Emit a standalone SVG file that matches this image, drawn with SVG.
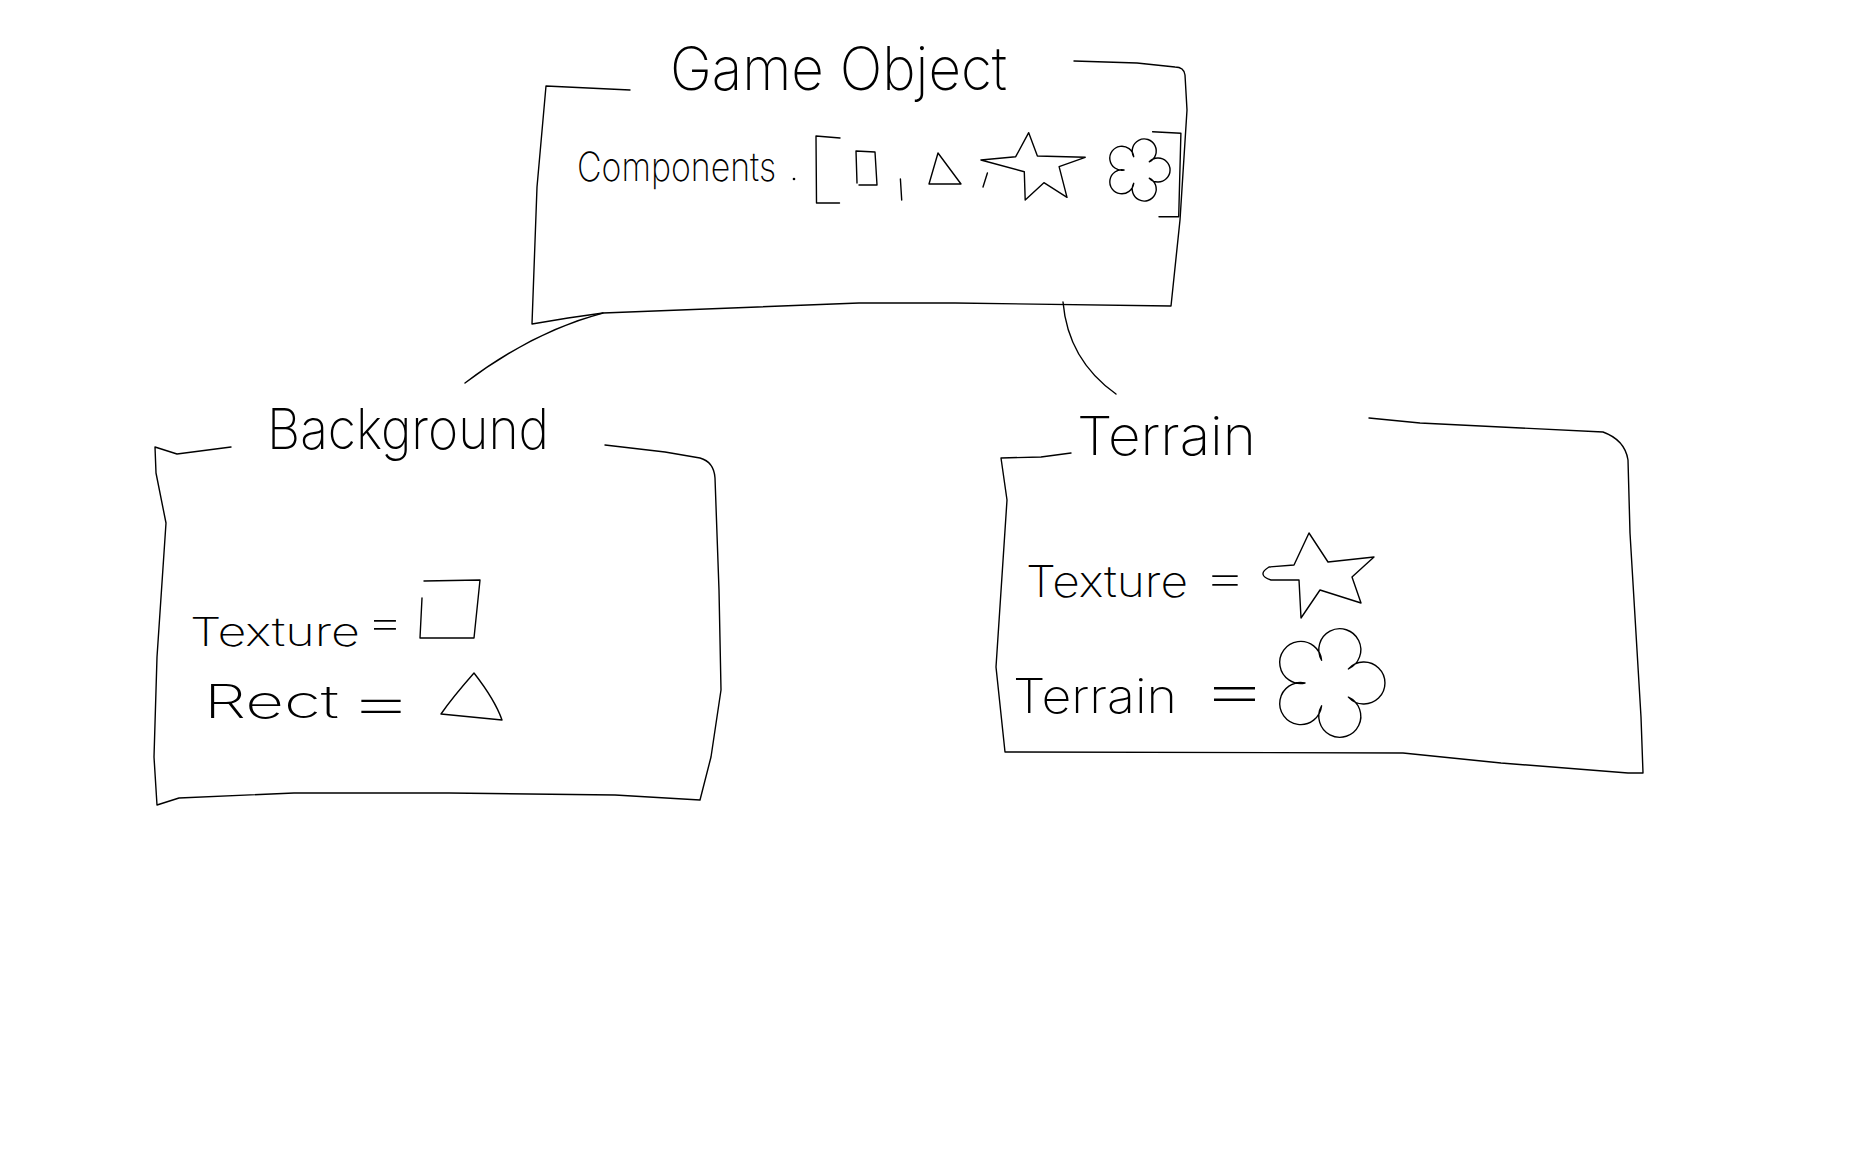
<svg xmlns="http://www.w3.org/2000/svg" width="1856" height="1150" viewBox="0 0 1856 1150">
<style>
.s{fill:none;stroke:#000;stroke-width:1.4;stroke-linejoin:round;stroke-linecap:round}
.t{font-family:Inter,"Liberation Sans",sans-serif;font-weight:200;fill:#000}
</style>
<rect width="1856" height="1150" fill="#fff"/>
<g id="connectors">
<path class="s" d="M 603 313 Q 532 332 465 383"/>
<path class="s" d="M 1063 302 Q 1068 360 1116 394"/>
</g>
<g id="node-game-object">
<path class="s" d="M 630 90 L 546 86 L 537 187 L 532 324 L 568 318 L 603 313 L 859 303 L 955 303 L 1171 306 L 1180 220 L 1187 110 L 1185 75 Q 1184 67 1175 67 L 1137 63 L 1074 61"/>
<text class="t" x="670" y="90" font-size="60" textLength="337" lengthAdjust="spacingAndGlyphs">Game Object</text>
<text class="t" x="577" y="181" font-size="40" textLength="199" lengthAdjust="spacingAndGlyphs">Components</text>
<circle cx="794" cy="179" r="1.3" fill="#000"/>
<path class="s" d="M 840 138 L 816 136 L 816.5 203 L 839.5 203"/>
<path class="s" d="M 856 151 L 875 152 L 877 185 L 859 185 M 856 151 L 857 183"/>
<path class="s" d="M 900.4 179 L 901.7 200"/>
<path class="s" d="M 938 153 L 961 184 L 929 184 Z"/>
<path class="s" d="M 987.4 173 L 983 187"/>
<path class="s" d="M 1028.7 132.7 L 1037.4 156 L 1085.2 157.3 L 1059.1 166.7 L 1067 197.3 L 1043.9 182.7 L 1025.2 200 L 1024.3 171.7 L 980.9 160 L 1015.7 156.7 Z"/>
<path class="s" d="M 1133.7 156.7 A 12 12 0 1 1 1149.3 161.8 A 12 12 0 1 1 1149.3 178.2 A 12 12 0 1 1 1133.7 183.3 A 12 12 0 1 1 1124 170 A 12 12 0 1 1 1133.7 156.7 Z"/>
<path class="s" d="M 1152.6 131.7 L 1180.9 133.3 L 1178.7 216.7 L 1159 216.7"/>
</g>
<g id="node-background">
<path class="s" d="M 231 447 L 177 454 L 155 447 L 156 473 L 166 523 L 157 657 L 154 757 L 157 805 L 179 798 L 294 793 L 449 793 L 615 795 L 700 800 L 711 757 L 721 690 L 719 590 L 715 478 Q 714 462 700 458 L 665 452 L 605 445"/>
<text class="t" x="267" y="449" font-size="56" textLength="282" lengthAdjust="spacingAndGlyphs">Background</text>
<text class="t" x="190" y="646" font-size="40" textLength="170" lengthAdjust="spacingAndGlyphs">Texture</text>
<text class="t" x="366" y="636" font-size="40" textLength="38" lengthAdjust="spacingAndGlyphs">=</text>
<path class="s" d="M 424 581 L 480 580 L 474 638 L 420 638 L 422 598"/>
<text class="t" x="204" y="718" font-size="46" textLength="135" lengthAdjust="spacingAndGlyphs">Rect</text>
<text class="t" x="347" y="722" font-size="56" textLength="68" lengthAdjust="spacingAndGlyphs">=</text>
<path class="s" d="M 474 673 Q 495 700 502 720 L 441 714 Q 452 698 474 673 Z"/>
</g>
<g id="node-terrain">
<path class="s" d="M 1071 453 L 1041 457 L 1001 458 L 1007 500 L 996 667 L 1005 752 L 1403 753 L 1501 763 L 1628 773 L 1643 773 L 1641 717 L 1630 533 L 1628 460 Q 1625 440 1603 432 L 1420 423 L 1369 418"/>
<text class="t" x="1077" y="455" font-size="54" textLength="179" lengthAdjust="spacingAndGlyphs">Terrain</text>
<text class="t" x="1026" y="597" font-size="44" textLength="162" lengthAdjust="spacingAndGlyphs">Texture</text>
<text class="t" x="1203" y="593" font-size="44" textLength="44" lengthAdjust="spacingAndGlyphs">=</text>
<path class="s" d="M 1309 533 L 1328 562 L 1374 557 L 1352 577 L 1361 603 L 1320 590 L 1301 618 L 1299 580 L 1271 580 Q 1256 575 1269 567 L 1294 565 Z"/>
<text class="t" x="1013" y="713" font-size="48" textLength="164" lengthAdjust="spacingAndGlyphs">Terrain</text>
<text class="t" x="1199" y="711" font-size="60" textLength="71" lengthAdjust="spacingAndGlyphs">=</text>
<path class="s" d="M 1321.6 660.2 A 21 21 0 1 1 1348.4 668.9 A 21 21 0 1 1 1348.4 697.1 A 21 21 0 1 1 1321.6 705.8 A 21 21 0 1 1 1305 683 A 21 21 0 1 1 1321.6 660.2 Z"/>
</g>
</svg>
